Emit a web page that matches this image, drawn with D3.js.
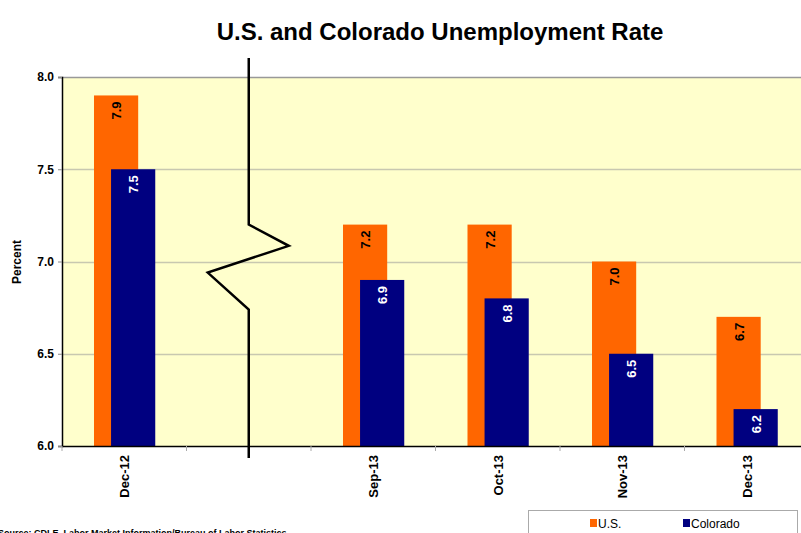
<!DOCTYPE html>
<html><head><meta charset="utf-8">
<script src="https://cdn.jsdelivr.net/npm/d3@7"></script>
<style>body{margin:0;background:#fff;overflow:hidden}svg{display:block;font-family:"Liberation Sans",Arial,sans-serif}</style>
</head><body>
<svg id="c" width="801" height="533"></svg>
<script>
const categories = ["Dec-12", "", "Sep-13", "Oct-13", "Nov-13", "Dec-13"];
const usValues = [7.9, null, 7.2, 7.2, 7.0, 6.7];
const coValues = [7.5, null, 6.9, 6.8, 6.5, 6.2];
const yTicks = [6.0, 6.5, 7.0, 7.5, 8.0];
const seriesNames = ["U.S.", "Colorado"];
const colors = ["#FF6600", "#000080"];

const svg = d3.select("#c");
const L = 62, R = 809, T = 77, B = 446;
const x = d3.scaleBand().domain(d3.range(categories.length)).range([L, R]).paddingInner(0).paddingOuter(0);
const y = d3.scaleLinear().domain([6, 8]).range([B, T]);
const bw = x.bandwidth();

svg.append("text").attr("x", 440).attr("y", 40).attr("text-anchor", "middle")
  .attr("font-size", 24).attr("font-weight", "bold").text("U.S. and Colorado Unemployment Rate");

svg.append("rect").attr("x", L).attr("y", T).attr("width", R - L).attr("height", B - T).attr("fill", "#FFFFCC");

// gridlines
svg.append("g").selectAll("line").data(yTicks.filter(d => d > 6)).join("line")
  .attr("x1", L).attr("x2", R).attr("y1", d => Math.round(y(d)) + 0.5).attr("y2", d => Math.round(y(d)) + 0.5)
  .attr("stroke", d => d === 8 ? "#999" : "#c8c8b0").attr("stroke-width", 1.5);

// bars
const data = categories.map((c, i) => ({ i, us: usValues[i], co: coValues[i] }));
const g = svg.append("g");
const series = [
  { key: "us", off: 0.257, fill: colors[0], tc: "#000" },
  { key: "co", off: 0.394, fill: colors[1], tc: "#fff" }
];
series.forEach(s => {
  const w = bw * 0.355;
  const d = data.filter(d => d[s.key] != null);
  g.selectAll("rect." + s.key).data(d).join("rect").attr("class", s.key)
    .attr("x", d => x(d.i) + bw * s.off).attr("width", w)
    .attr("y", d => y(d[s.key])).attr("height", d => B - y(d[s.key])).attr("fill", s.fill);
  g.selectAll("text." + s.key).data(d).join("text").attr("class", s.key)
    .attr("transform", d => `translate(${x(d.i) + bw * s.off + w / 2 + 5},${y(d[s.key]) + 6}) rotate(-90)`)
    .attr("text-anchor", "end").attr("font-size", 13).attr("font-weight", "bold").attr("fill", s.tc)
    .text(d => d[s.key].toFixed(1));
});

// y axis
const ya = svg.append("g").attr("transform", `translate(${L},0)`)
  .call(d3.axisLeft(y).tickValues(yTicks).tickFormat(d3.format(".1f")).tickSize(4).tickPadding(4));
ya.select(".domain").attr("stroke", "#000").attr("stroke-width", 1.5);
ya.selectAll(".tick line").attr("stroke", "#888");
ya.selectAll("text").attr("font-size", 12).attr("font-weight", "bold").attr("font-family", "Liberation Sans, Arial, sans-serif").attr("fill", "#000");

// x axis
const xa = svg.append("g").attr("transform", `translate(0,${B})`)
  .call(d3.axisBottom(x).tickFormat(i => categories[i]).tickSize(0).tickPadding(0));
xa.select(".domain").remove();
svg.append("line").attr("x1", L).attr("x2", R).attr("y1", B + 0.5).attr("y2", B + 0.5).attr("stroke", "#000").attr("stroke-width", 1.5);
svg.append("g").selectAll("line").data(d3.range(categories.length + 1)).join("line")
  .attr("x1", i => L + i * bw).attr("x2", i => L + i * bw).attr("y1", B).attr("y2", B + 5).attr("stroke", "#aaa");
xa.selectAll(".tick text").attr("transform", "translate(5,9) rotate(-90)").attr("text-anchor", "end").attr("dy", 0)
  .attr("font-size", 13).attr("font-weight", "bold").attr("font-family", "Liberation Sans, Arial, sans-serif").attr("fill", "#000");

// y label
svg.append("text").attr("transform", "translate(21,262) rotate(-90)").attr("text-anchor", "middle")
  .attr("font-size", 12).attr("font-weight", "bold").text("Percent");

// axis break
const bx = x(1) + bw / 2;
const breakPts = [[bx, 58], [bx, y(7.2)], [bx + 40, y(7.085)], [bx - 41, y(6.94)], [bx, y(6.74)], [bx, 458]];
svg.append("path").attr("d", d3.line()(breakPts)).attr("fill", "none").attr("stroke", "#000").attr("stroke-width", 2.5);

// legend
svg.append("rect").attr("x", 528.5).attr("y", 510.5).attr("width", 269).attr("height", 40).attr("fill", "#fff").attr("stroke", "#aaa");
const lx = [590, 683];
seriesNames.forEach((n, i) => {
  svg.append("rect").attr("x", lx[i]).attr("y", 519).attr("width", 7).attr("height", 8).attr("fill", colors[i]);
  svg.append("text").attr("x", lx[i] + 8).attr("y", 528).attr("font-size", 12).text(n);
});

svg.append("text").attr("x", -2).attr("y", 536).attr("font-size", 9).attr("font-weight", "bold")
  .text("Source: CDLE, Labor Market Information/Bureau of Labor Statistics");
</script>
</body></html>
